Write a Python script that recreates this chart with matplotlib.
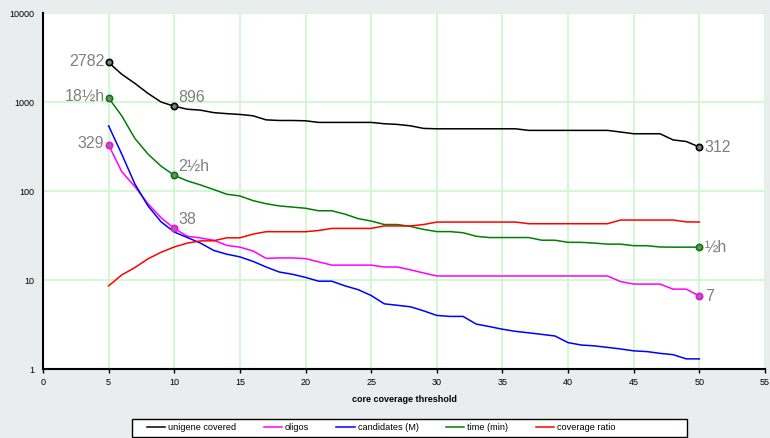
import matplotlib
matplotlib.use('Agg')
from matplotlib import pyplot as plt
from matplotlib.patches import Rectangle

plt.rcParams['font.family'] = ['Liberation Sans', 'DejaVu Sans']

# core coverage threshold
threshold = list(range(5, 51))

unigene = [2782, 2050, 1620, 1250, 1000, 896, 830, 810, 760, 740,
           725, 700, 630, 620, 620, 615, 590, 590, 590, 590,
           590, 570, 560, 540, 505, 500, 500, 500, 500, 500,
           500, 500, 480, 480, 480, 480, 480, 480, 480, 460,
           440, 440, 440, 375, 360, 312]
oligos = [329, 165, 112, 72, 50, 38, 31, 29.7, 28, 24.5,
          23.4, 21.2, 17.5, 17.7, 17.7, 17.4, 16, 14.7, 14.7, 14.7,
          14.7, 14, 14, 13, 12, 11.1, 11.1, 11.1, 11.1, 11.1,
          11.1, 11.1, 11.1, 11.1, 11.1, 11.1, 11.1, 11.1, 11.1, 9.6,
          9.0, 9.0, 9.0, 7.9, 7.9, 6.6]
candidates = [540, 260, 120, 68, 45, 34.6, 30, 26, 21.5, 19.5,
              18.2, 16.2, 14, 12.3, 11.6, 10.7, 9.7, 9.7, 8.6, 7.8,
              6.7, 5.4, 5.2, 5.0, 4.5, 4.0, 3.9, 3.9, 3.2, 3.0,
              2.8, 2.65, 2.55, 2.45, 2.35, 1.98, 1.86, 1.82, 1.75, 1.68,
              1.6, 1.57, 1.5, 1.45, 1.3, 1.3]
time_min = [1110, 700, 390, 260, 190, 150, 130, 117, 104, 92,
            88, 78, 72, 68, 66, 64, 60, 60, 55, 49,
            46, 42, 42, 40, 37, 35, 35, 34, 31, 30,
            30, 30, 30, 28, 28, 26.5, 26.5, 26, 25.3, 25.3,
            24.3, 24.3, 23.5, 23.4, 23.4, 23.4]
cov_ratio = [8.6, 11.4, 13.8, 17.3, 20.5, 23.5, 26, 27.5, 27.6, 29.8,
             29.8, 32.8, 34.9, 34.9, 34.9, 34.9, 36, 38, 38, 38,
             38, 40.5, 40.5, 40.5, 42, 44.8, 44.8, 44.8, 44.8, 44.8,
             44.8, 44.8, 42.9, 42.9, 42.9, 42.9, 42.9, 42.9, 42.9, 47.2,
             47.2, 47.2, 47.2, 47.2, 45, 44.8]

# labelled points: (series, x, text, side)
labels = [
    (unigene, 5, '2782', 'left'),
    (unigene, 10, '896', 'above'),
    (unigene, 50, '312', 'right'),
    (time_min, 5, '18½h', 'left'),
    (time_min, 10, '2½h', 'above'),
    (time_min, 50, '½h', 'right'),
    (oligos, 5, '329', 'left'),
    (oligos, 10, '38', 'above'),
    (oligos, 50, '7', 'right'),
]

bg = '#eaeded'
fig = plt.figure(figsize=(7.7, 4.38), dpi=100, facecolor=bg)
ax = fig.add_axes([0.0558, 0.1575, 0.9377, 0.8128])
ax.set_facecolor('white')

series = [
    (unigene, 'black', 'unigene covered'),
    (oligos, '#ff00ff', 'oligos'),
    (candidates, '#0000ff', 'candidates (M)'),
    (time_min, '#008000', 'time (min)'),
    (cov_ratio, '#ff0000', 'coverage ratio'),
]
for vals, col, name in series:
    ax.plot(threshold, vals, color=col, lw=1.1, label=name, zorder=3)

colors = {id(unigene): 'black', id(time_min): '#008000', id(oligos): '#ff00ff'}
for vals, x, txt, side in labels:
    y = vals[threshold.index(x)]
    col = colors[id(vals)]
    ax.plot([x], [y], 'o', ms=4.5, mfc='#808080', mec=col, mew=1.2, zorder=4)
    if side == 'left':
        ax.annotate(txt, (x, y), xytext=(-3, 1), textcoords='offset points',
                    ha='right', va='center', fontsize=11.5, color='#808080')
    elif side == 'above':
        ax.annotate(txt, (x, y), xytext=(3, 1), textcoords='offset points',
                    ha='left', va='bottom', fontsize=11.5, color='#808080')
    else:
        ax.annotate(txt, (x, y), xytext=(4, 0), textcoords='offset points',
                    ha='left', va='center', fontsize=11.5, color='#808080')

ax.set_yscale('log')
ax.set_ylim(1, 10000)
ax.set_xlim(0, 55)
ax.set_xticks(range(0, 56, 5))
ax.set_yticks([1, 10, 100, 1000, 10000])
ax.set_yticklabels(['1', '10', '100', '1000', '10000'])
ax.minorticks_off()
ax.tick_params(axis='both', labelsize=6.5, length=3, width=1)
ax.tick_params(axis='y', length=0, pad=6)
ax.grid(True, color='#ccf7cc', lw=1.2, zorder=0)
ax.set_axisbelow(True)
for s in ['top', 'right']:
    ax.spines[s].set_visible(False)
ax.spines['left'].set_linewidth(1.5)
ax.spines['bottom'].set_linewidth(1.5)
ax.set_xlabel('core coverage threshold', fontsize=6.5, fontweight='bold', labelpad=6)

# legend box drawn separately (content is not centred in it)
fig.patches.append(Rectangle((132 / 770, 1 / 438), 555 / 770, 18 / 438,
                             transform=fig.transFigure, facecolor='white',
                             edgecolor='black', lw=1.0, zorder=1))
fig.legend(loc='center', bbox_to_anchor=(381 / 770, 10 / 438), ncol=5, fontsize=6.6,
           frameon=False, handlelength=2.0, handletextpad=0.3, columnspacing=3.0)

fig.savefig('out.png', dpi=100, facecolor=bg)
